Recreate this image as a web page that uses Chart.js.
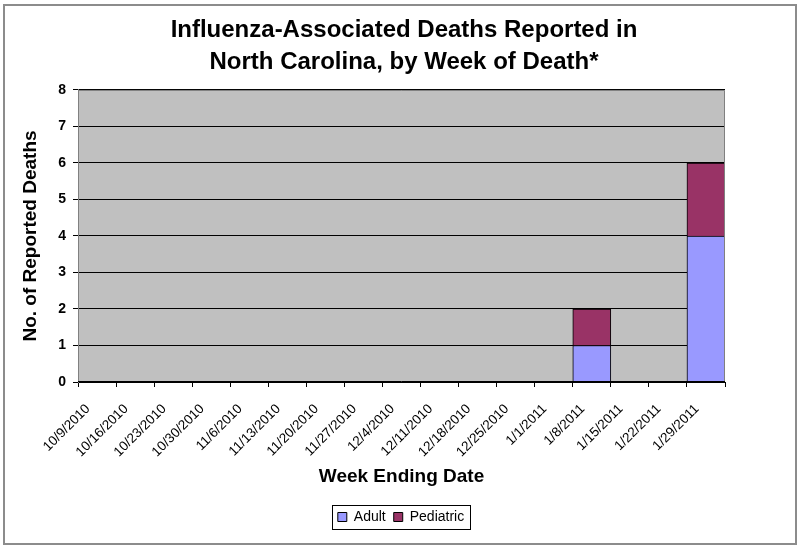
<!DOCTYPE html>
<html>
<head>
<meta charset="utf-8">
<script src="https://cdn.jsdelivr.net/npm/chart.js@4"></script>
<style>
  html, body { margin: 0; padding: 0; background: #fff; }
  #frame {
    position: absolute; left: 3px; top: 4px;
    width: 790px; height: 537px;
    border: 2px solid #8c8c8c;
  }
  #wrap { position: absolute; left: 0; top: 0; width: 800px; height: 547px; }
</style>
</head>
<body>
<div id="frame"></div>
<div id="wrap"><canvas id="fluChart"></canvas></div>
<script>
// Data for the chart
const weeks = [
  "10/9/2010", "10/16/2010", "10/23/2010", "10/30/2010", "11/6/2010",
  "11/13/2010", "11/20/2010", "11/27/2010", "12/4/2010", "12/11/2010",
  "12/18/2010", "12/25/2010", "1/1/2011", "1/8/2011", "1/15/2011",
  "1/22/2011", "1/29/2011",
];
const adult = [0, 0, 0, 0, 0, 0, 0, 0, 0, 0, 0, 0, 0, 1, 0, 0, 4];
const pediatric = [0, 0, 0, 0, 0, 0, 0, 0, 0, 0, 0, 0, 0, 1, 0, 0, 2];

const FONT = "Liberation Sans, Arial, sans-serif";

// Grey plot area with a border, legend box, and centred title/legend
const plotBackground = {
  id: "plotBackground",
  afterLayout(chart) {
    // centre title and legend on the page like the original
    chart.titleBlock.left = 0;
    chart.titleBlock.right = 808;
    chart.legend.left = 0;
    chart.legend.right = 802;
  },
  beforeDraw(chart) {
    const { ctx, chartArea: a } = chart;
    ctx.save();
    ctx.fillStyle = "#c0c0c0";
    ctx.fillRect(a.left, a.top, a.right - a.left, a.bottom - a.top);
    ctx.restore();
  },
  afterDatasetsDraw(chart) {
    const { ctx, chartArea: a } = chart;
    ctx.save();
    ctx.strokeStyle = "#808080";
    ctx.lineWidth = 1;
    ctx.beginPath();
    ctx.moveTo(a.left, a.top + 0.5);
    ctx.lineTo(a.right - 0.5, a.top + 0.5);
    ctx.lineTo(a.right - 0.5, a.bottom);
    ctx.stroke();
    ctx.strokeStyle = "#000";
    ctx.beginPath();
    ctx.moveTo(a.left, a.bottom - 0.5);
    ctx.lineTo(a.right, a.bottom - 0.5);
    ctx.stroke();
    ctx.restore();
  },
  afterDraw(chart) {
    const boxes = chart.legend.legendHitBoxes;
    if (!boxes || !boxes.length) return;
    const left = Math.min(...boxes.map((b) => b.left)) - 6;
    const right = Math.max(...boxes.map((b) => b.left + b.width)) + 6;
    const top = Math.min(...boxes.map((b) => b.top)) - 5;
    const bottom = Math.max(...boxes.map((b) => b.top + b.height)) + 5;
    const ctx = chart.ctx;
    ctx.save();
    ctx.strokeStyle = "#000";
    ctx.lineWidth = 1;
    ctx.strokeRect(Math.round(left) + 0.5, Math.round(top) + 0.5,
      Math.round(right - left), Math.round(bottom - top));
    ctx.restore();
  },
};

const fluChart = new Chart(document.getElementById("fluChart"), {
  type: "bar",
  data: {
    labels: weeks,
    datasets: [
      {
        label: "Adult",
        data: adult,
        backgroundColor: "#9999ff",
        borderColor: "#000",
        borderWidth: 1,
        barPercentage: 1,
        categoryPercentage: 1,
      },
      {
        label: "Pediatric",
        data: pediatric,
        backgroundColor: "#993366",
        borderColor: "#000",
        borderWidth: 1,
        barPercentage: 1,
        categoryPercentage: 1,
      },
    ],
  },
  options: {
    responsive: true,
    maintainAspectRatio: false,
    animation: false,
    layout: { padding: { left: 14, right: 75, top: 0, bottom: 13 } },
    plugins: {
      title: {
        display: true,
        text: [
          "Influenza-Associated Deaths Reported in",
          "North Carolina, by Week of Death*",
        ],
        color: "#000",
        font: { family: FONT, size: 24, weight: "bold", lineHeight: 1.333 },
        padding: { top: 14, bottom: 12 },
      },
      legend: {
        position: "bottom",
        labels: {
          color: "#000",
          font: { family: FONT, size: 14 },
          boxWidth: 9,
          boxHeight: 9,
          padding: 8,
        },
      },
      tooltip: { enabled: false },
    },
    scales: {
      x: {
        stacked: true,
        afterFit(scale) {
          scale.height = 120;
        },
        grid: {
          drawOnChartArea: false,
          drawTicks: true,
          tickLength: 5,
          color: "#000",
        },
        border: { color: "#000" },
        ticks: {
          color: "#000",
          font: { family: FONT, size: 13.5 },
          maxRotation: 45,
          minRotation: 45,
          autoSkip: false,
          labelOffset: -9,
          padding: 14,
        },
        title: {
          display: true,
          text: "Week Ending Date",
          color: "#000",
          font: { family: FONT, size: 19, weight: "bold" },
          padding: { top: 10, bottom: 14 },
        },
      },
      y: {
        stacked: true,
        min: 0,
        max: 8,
        afterFit(scale) {
          scale.width = 64;
        },
        ticks: {
          stepSize: 1,
          color: "#000",
          font: { family: FONT, size: 14, weight: "bold" },
          padding: 7,
        },
        grid: {
          color: "#000",
          tickLength: 5,
        },
        border: { color: "#808080" },
        title: {
          display: true,
          text: "No. of Reported Deaths",
          color: "#000",
          font: { family: FONT, size: 19, weight: "bold" },
          padding: { top: 5, bottom: 0 },
        },
      },
    },
  },
  plugins: [plotBackground],
});
</script>
</body>
</html>
